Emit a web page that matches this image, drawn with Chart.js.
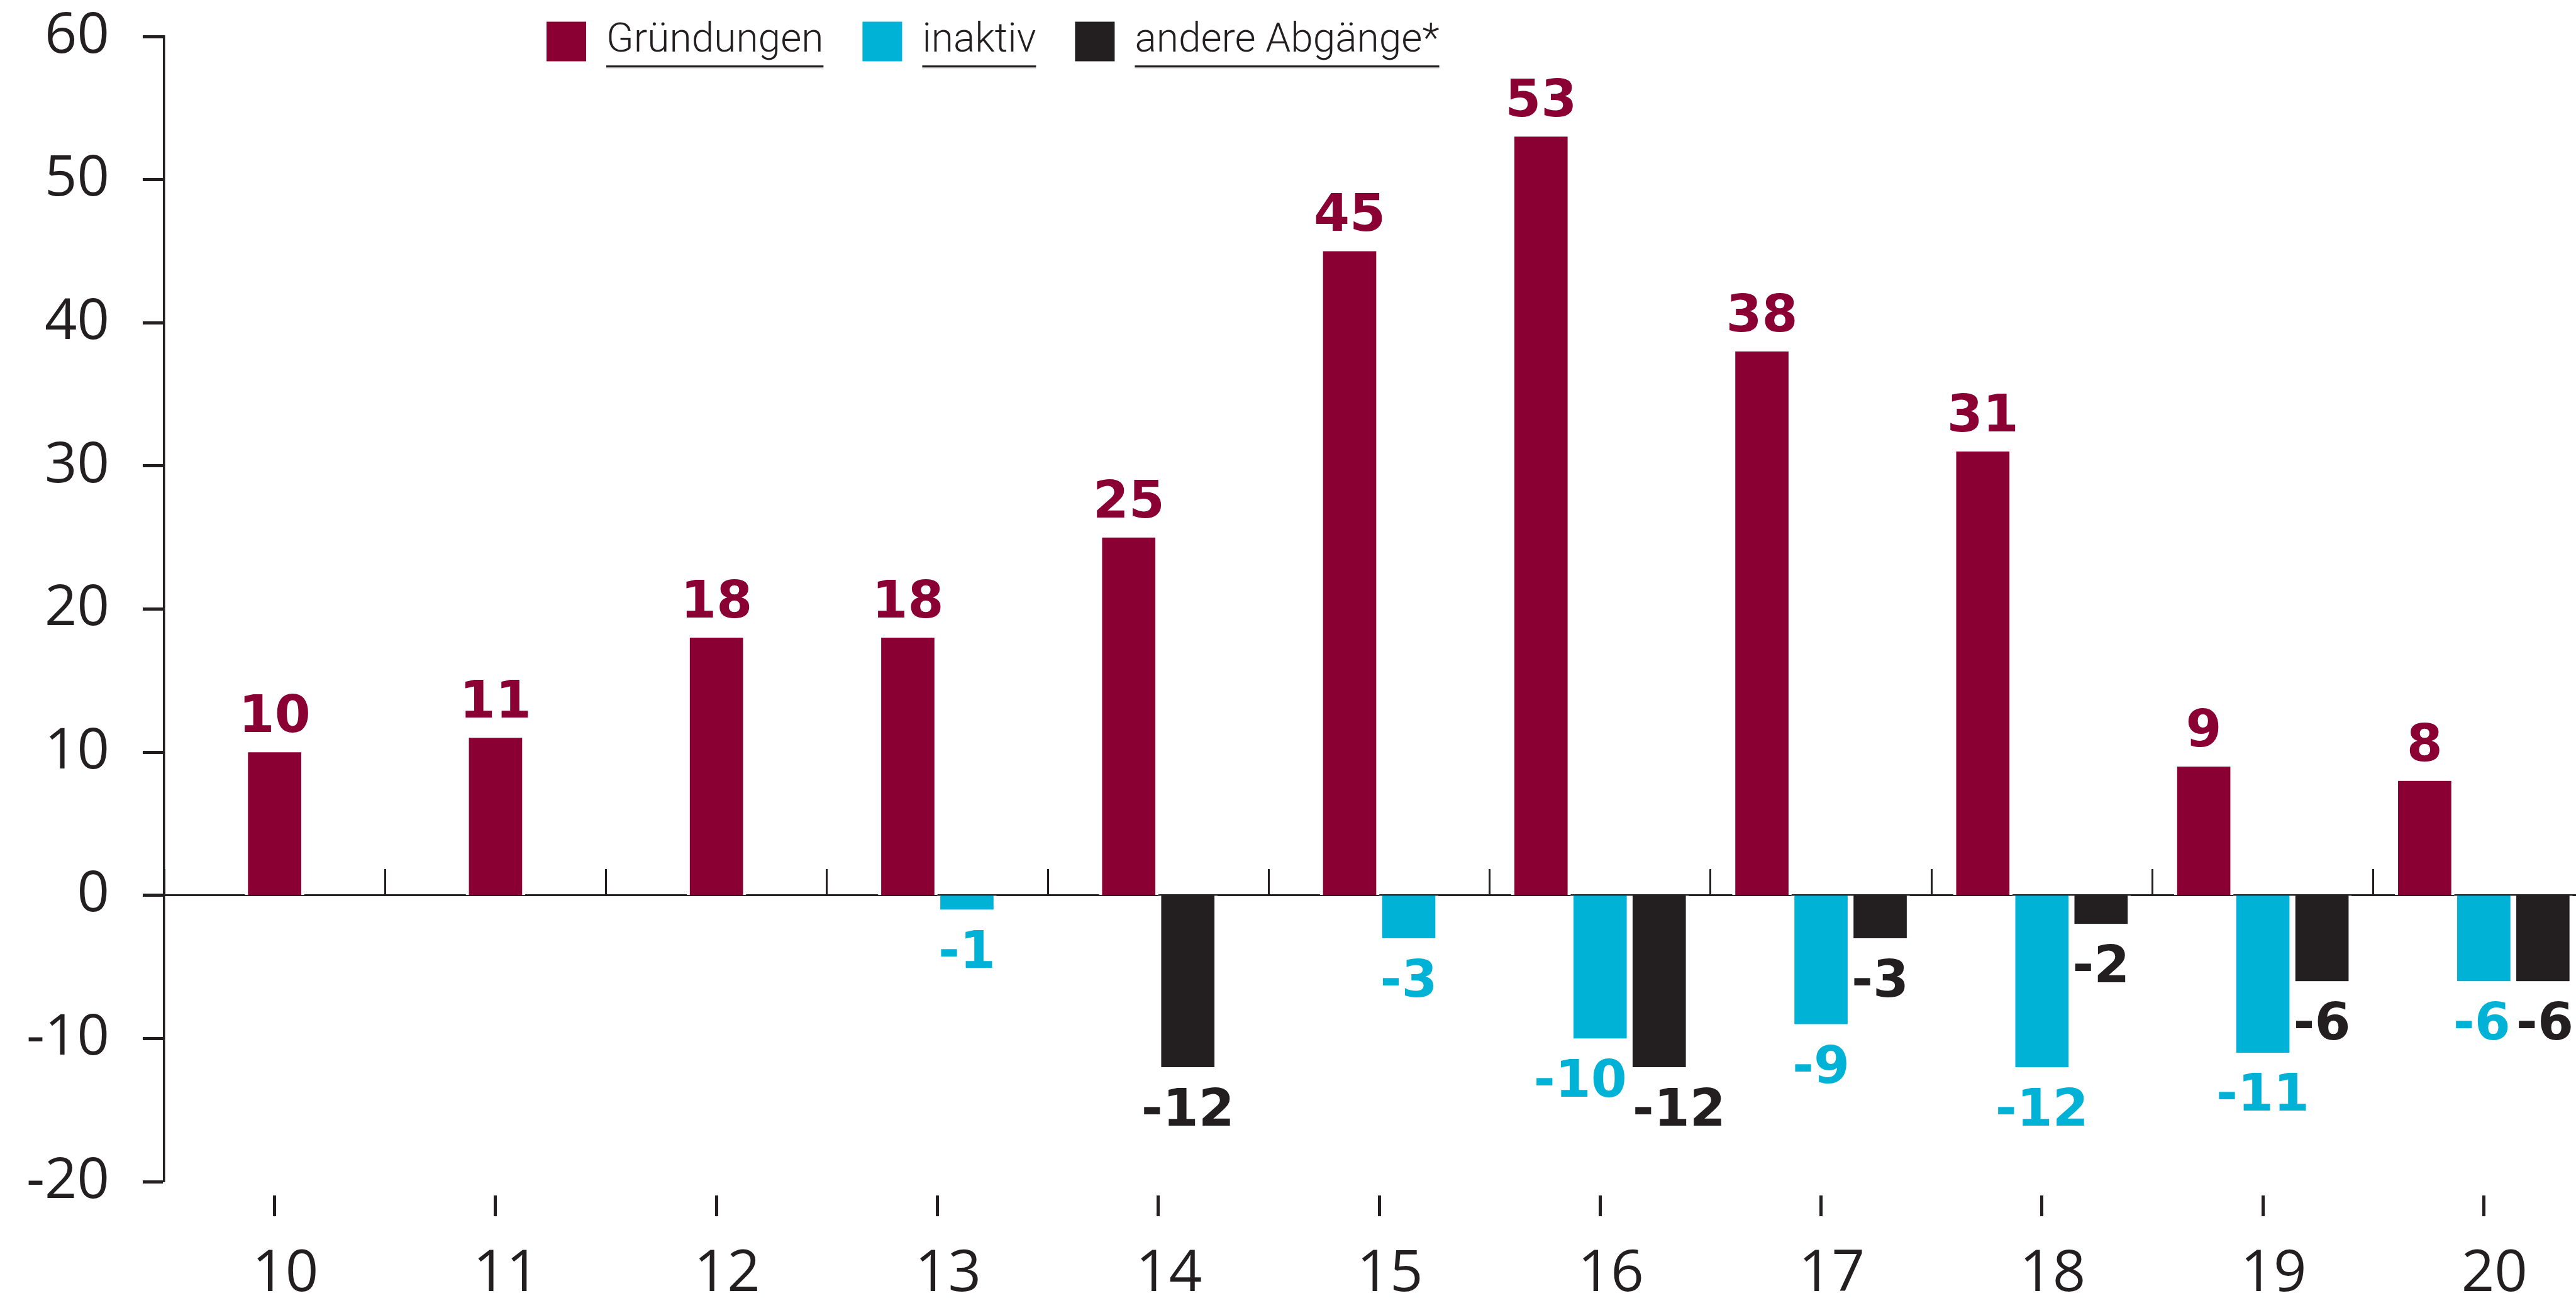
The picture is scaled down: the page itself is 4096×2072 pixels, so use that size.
<!DOCTYPE html>
<html lang="de">
<head>
<meta charset="utf-8">
<title>Gründungen und Abgänge</title>
<script src="https://cdn.jsdelivr.net/npm/chart.js"></script>
<style>
  html, body { margin: 0; padding: 0; background: #fff; overflow: hidden; }
  /* chart runs a little past the right edge of the window, like the original */
  #wrap { position: relative; width: 4200px; height: 2072px; }
</style>
</head>
<body>
<div id="wrap"><canvas id="chart"></canvas></div>
<script>
(function() {
    // Daten
    const years = ['10', '11', '12', '13', '14', '15', '16', '17', '18', '19', '20'];
    const gruendungen = [10, 11, 18, 18, 25, 45, 53, 38, 31, 9, 8];
    const inaktiv = [null, null, null, -1, null, -3, -10, -9, -12, -11, -6];
    const andereAbgaenge = [null, null, null, null, -12, null, -12, -3, -2, -6, -6];
    const yMin = -20;
    const yMax = 60;
    const yStep = 10;

    const RED = '#8b0033';
    const CYAN = '#00b2d6';
    const INK = '#231f20';

    const LEGEND_X = 869;
    const LEGEND_Y = 34;
    const LEGEND_FONT = { family: 'Roboto', size: 64, weight: 300 };
    const UNDERLINE_Y = 104;
    const LABEL_GAP = 32;

    // Legende oben links im Diagramm platzieren
    const legendPlacer = {
        id: 'legendPlacer',
        beforeDraw(chart) {
            const lg = chart.legend;
            const pad = lg.options.labels.padding;
            lg.left = LEGEND_X - pad;
            lg.top = LEGEND_Y - pad;
            lg.right = chart.width;
            lg.bottom = chart.height;
        },
        afterDraw(chart) {
            // Unterstreichung der Legendentexte
            const lg = chart.legend;
            const o = lg.options.labels;
            const ctx = chart.ctx;
            ctx.save();
            ctx.font = LEGEND_FONT.weight + ' ' + LEGEND_FONT.size + 'px ' + LEGEND_FONT.family;
            let x = lg.left + o.padding;
            lg.legendItems.forEach(item => {
                const tx = x + o.boxWidth + LEGEND_FONT.size / 2;
                const w = ctx.measureText(item.text).width;
                ctx.fillStyle = INK;
                ctx.fillRect(tx, UNDERLINE_Y, w, 3);
                ctx.fillStyle = '#b8b8b8';
                ctx.fillRect(tx, UNDERLINE_Y + 3, w, 1.5);
                x = tx + w + o.padding;
            });
            ctx.restore();
        }
    };

    // Werte an die Balken schreiben
    const valueLabels = {
        id: 'valueLabels',
        afterDatasetsDraw(chart) {
            const ctx = chart.ctx;
            ctx.save();
            ctx.font = 'bold 82px "DejaVu Sans"';
            ctx.textAlign = 'center';
            ctx.textBaseline = 'alphabetic';
            const items = [];
            chart.data.datasets.forEach((ds, di) => {
                const meta = chart.getDatasetMeta(di);
                meta.data.forEach((bar, i) => {
                    const v = ds.data[i];
                    if (v === null || v === undefined) return;
                    const text = String(v);
                    const m = ctx.measureText(text);
                    const asc = m.actualBoundingBoxAscent;
                    const top = v >= 0 ? bar.y - LABEL_GAP - asc : bar.y + LABEL_GAP;
                    items.push({ i, text, color: ds.backgroundColor, x: bar.x, top, w: m.width, asc });
                });
            });
            // überlappende Beschriftungen einer Gruppe auseinanderschieben
            for (let a = 0; a < items.length; a++) {
                for (let b = 0; b < items.length; b++) {
                    const p = items[a], q = items[b];
                    if (p.i !== q.i || p.x >= q.x) continue;
                    const vOverlap = p.top < q.top + q.asc && q.top < p.top + p.asc;
                    const over = (p.x + p.w / 2 + 9) - (q.x - q.w / 2);
                    if (vOverlap && over > 0) {
                        p.x -= over / 2;
                        q.x += over / 2;
                    }
                }
            }
            items.forEach(it => {
                ctx.fillStyle = it.color;
                ctx.fillText(it.text, it.x, it.top + it.asc);
            });
            ctx.restore();
        }
    };

    const ctx = document.getElementById('chart').getContext('2d');
    new Chart(ctx, {
        type: 'bar',
        data: {
            labels: years,
            datasets: [
                { label: 'Gründungen', data: gruendungen, backgroundColor: RED },
                { label: 'inaktiv', data: inaktiv, backgroundColor: CYAN },
                { label: 'andere Abgänge*', data: andereAbgaenge, backgroundColor: INK }
            ]
        },
        options: {
            responsive: true,
            maintainAspectRatio: false,
            animation: false,
            devicePixelRatio: 1,
            layout: { padding: { top: 57, right: 75, bottom: 0, left: 0 } },
            datasets: {
                bar: {
                    barThickness: 94,
                    skipNull: true,
                    borderColor: '#ffffff',
                    borderWidth: { left: 5, right: 5, top: 0, bottom: 0 }
                }
            },
            plugins: {
                tooltip: { enabled: false },
                legend: {
                    position: 'top',
                    align: 'start',
                    maxHeight: 1,
                    labels: {
                        boxWidth: 63,
                        boxHeight: 63,
                        padding: 62,
                        color: INK,
                        font: LEGEND_FONT,
                        generateLabels: (chart) => Chart.defaults.plugins.legend.labels
                            .generateLabels(chart).map(l => Object.assign(l, { lineWidth: 0 }))
                    }
                }
            },
            scales: {
                x: {
                    type: 'category',
                    position: 'bottom',
                    offset: true,
                    border: { display: false },
                    grid: {
                        offset: false,
                        drawOnChartArea: false,
                        drawTicks: true,
                        tickLength: 55,
                        tickWidth: 5,
                        tickColor: INK,
                        tickBorderDash: [0, 22, 33]
                    },
                    ticks: {
                        color: INK,
                        font: { family: 'Open Sans', size: 92 },
                        padding: 38,
                        labelOffset: 17,
                        maxRotation: 0,
                        autoSkip: false
                    },
                    afterFit: (s) => { s.height = 193; }
                },
                zero: {
                    axis: 'x',
                    type: 'category',
                    position: { y: 0 },
                    offset: true,
                    z: 1,
                    border: { display: true, color: INK, width: 3 },
                    grid: {
                        offset: true,
                        drawOnChartArea: false,
                        drawTicks: true,
                        tickLength: -43,
                        tickWidth: 3,
                        tickColor: INK
                    },
                    ticks: { display: false }
                },
                y: {
                    min: yMin,
                    max: yMax,
                    border: { display: true, color: INK, width: 3.5 },
                    grid: {
                        drawOnChartArea: false,
                        drawTicks: true,
                        tickLength: 34,
                        tickWidth: 5,
                        tickColor: INK
                    },
                    ticks: {
                        stepSize: yStep,
                        color: INK,
                        // tiny lineHeight keeps the label padding from pushing the plot down
                        font: { family: 'Open Sans', size: 90, lineHeight: 0.01 },
                        padding: 53
                    },
                    afterFit: (s) => { s.width = 261; }
                }
            }
        },
        plugins: [legendPlacer, valueLabels]
    });
})();
</script>
</body>
</html>
